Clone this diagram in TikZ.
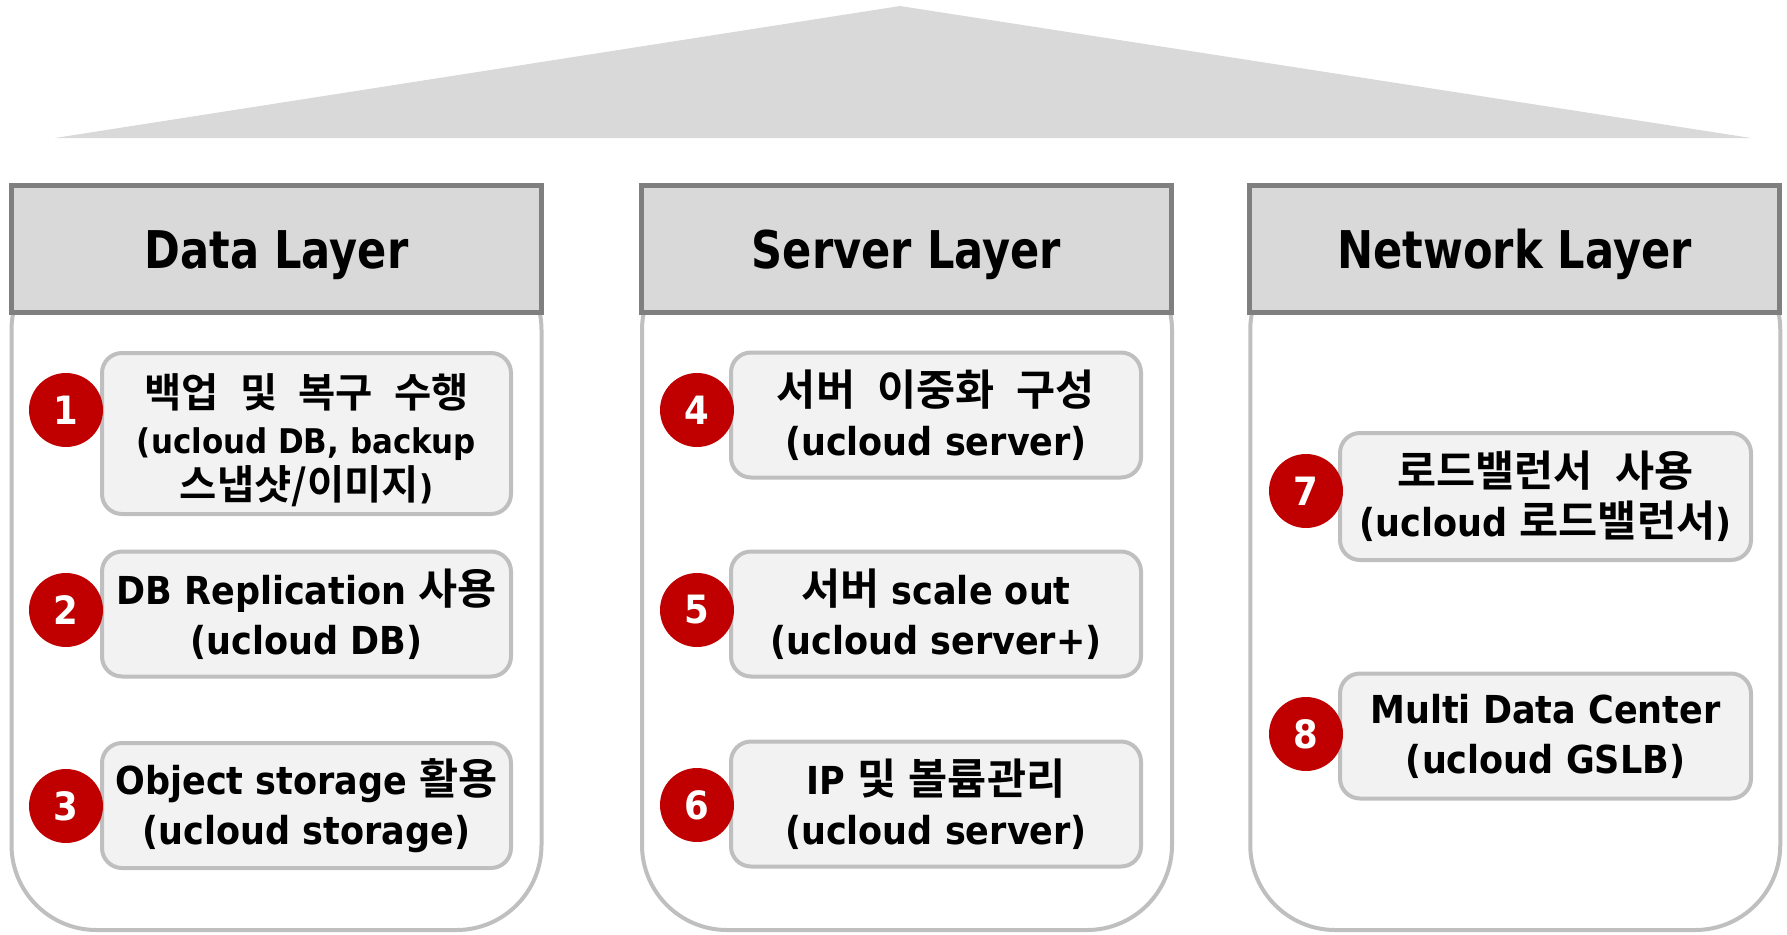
\documentclass[tikz,border=0pt]{standalone}
\usepackage{fontspec}
\setmainfont{DejaVu Sans}[FakeStretch=0.91]
\newfontfamily\hdrfont{DejaVu Sans}[FakeStretch=0.83]
\newfontfamily\hkfont{Noto Sans CJK KR}[UprightFont=* Bold, BoldFont=* Bold, WordSpace=2.3]
\newcommand\hk[2][42.5]{{\hkfont\fontsize{#1}{#1}\selectfont #2}}
\lineskiplimit=-30pt
\definecolor{roofgray}{HTML}{D9D9D9}
\definecolor{hdrline}{HTML}{7F7F7F}
\definecolor{boxline}{HTML}{BFBFBF}
\definecolor{boxfill}{HTML}{F2F2F2}
\definecolor{badgered}{HTML}{C00000}
\tikzset{
  hdr/.style={draw=hdrline, fill=roofgray, line width=5pt, minimum width=530pt, minimum height=127pt, inner sep=0pt, text height=38pt, text depth=0pt, font=\hdrfont\bfseries\fontsize{52}{60}\selectfont},
  cont/.style={draw=boxline, line width=4pt, rounded corners=85pt, minimum width=530pt, minimum height=685pt, inner sep=0pt},
  item/.style={draw=boxline, fill=boxfill, line width=4pt, rounded corners=20pt, minimum width=409pt, minimum height=125pt, inner sep=0pt, align=center, font=\bfseries\fontsize{38.5}{50}\selectfont},
  badge/.style={circle, fill=badgered, minimum size=74pt, inner sep=0pt, text=white, font=\bfseries\fontsize{39}{40}\selectfont},
}
\begin{document}
\begin{tikzpicture}[x=1pt, y=-1pt]
\useasboundingbox (0,0) rectangle (1787,934);
% roof
\fill[roofgray] (900,6) -- (1751,138) -- (55,138) -- cycle;
% containers
\node[cont] (contD) at (276.5,587.5) {};
\node[cont] (contS) at (907,587.5) {};
\node[cont] (contN) at (1515.25,587.5) {};
% headers
\node[hdr] (hD) at (276.5,249) {Data Layer};
\node[hdr] (hS) at (906.5,249) {Server Layer};
\node[hdr] (hN) at (1514.5,249) {Network Layer};
% data boxes
\node[item, minimum height=161pt, font=\bfseries\fontsize{34}{46}\selectfont] (b1) at (306.5,433.5) {\rule{0pt}{48pt}\hk[40.5]{백업 및 복구 수행}\\(ucloud DB, backup\\\hk[40.5]{스냅샷/이미지})};
\node[item] (b2) at (306.5,614) {DB Replication \hk{사용}\\(ucloud DB)};
\node[item] (b3) at (306.5,805.5) {Object storage \hk{활용}\\(ucloud storage)};
% server boxes
\node[item, minimum width=410pt] (b4) at (936,415) {\hk{서버 이중화 구성}\\(ucloud server)};
\node[item, minimum width=410pt] (b5) at (936,614) {\hk{서버} scale out\\(ucloud server+)};
\node[item, minimum width=410pt] (b6) at (936,804) {IP \hk{및} \hk{볼륨관리}\\(ucloud server)};
% network boxes
\node[item, minimum width=411pt, minimum height=127pt] (b7) at (1545.5,496.5) {\hk{로드밸런서 사용}\\(ucloud \hk{로드밸런서})};
\node[item, minimum width=411pt] (b8) at (1545.5,736) {Multi Data Center\\(ucloud GSLB)};
% badges
\node[badge] (n1) at (66,410) {1};
\node[badge] (n2) at (66,610) {2};
\node[badge] (n3) at (66,806) {3};
\node[badge] (n4) at (697,410) {4};
\node[badge] (n5) at (697,610) {5};
\node[badge] (n6) at (697,805) {6};
\node[badge] (n7) at (1306,491) {7};
\node[badge] (n8) at (1306,734) {8};
\end{tikzpicture}
\end{document}
